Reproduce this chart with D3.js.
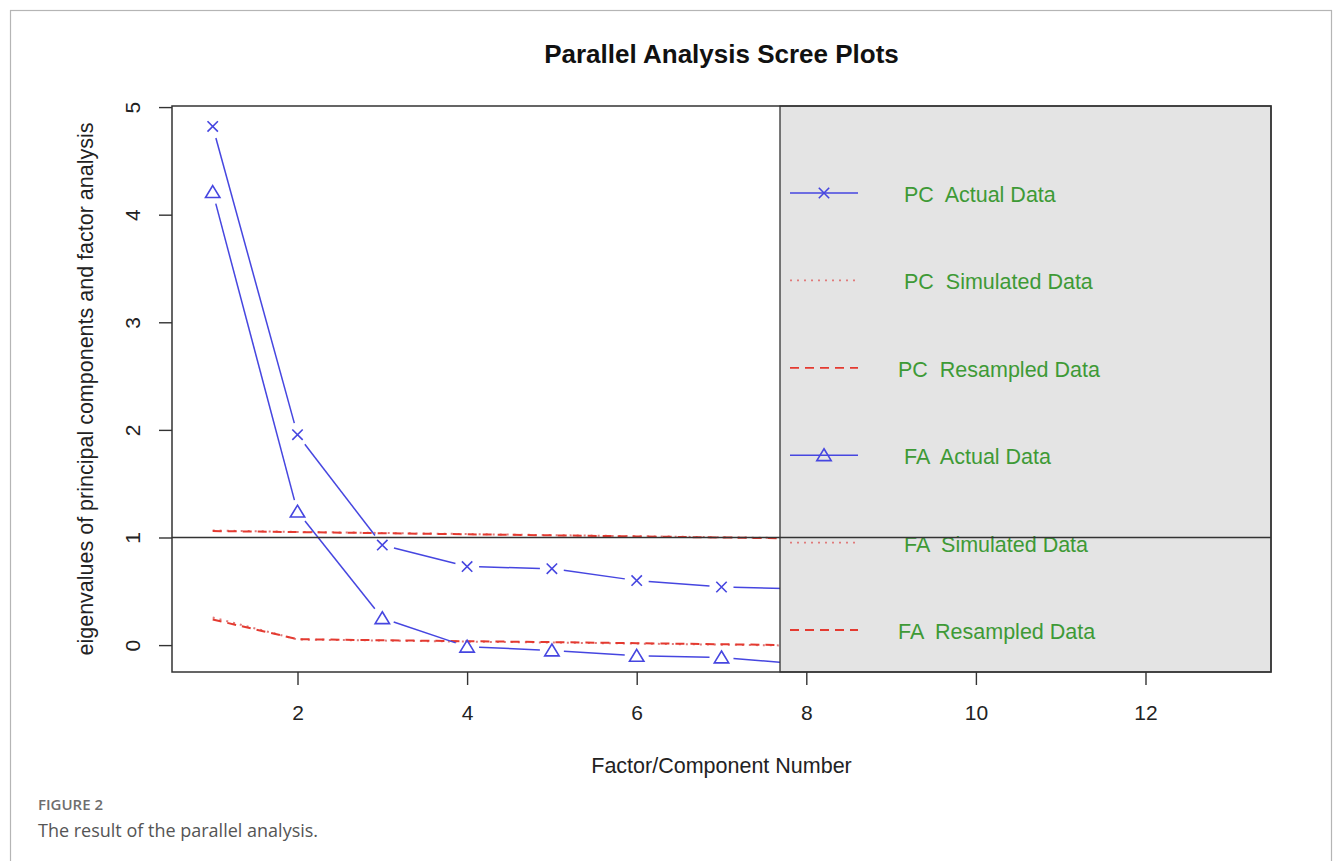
<!DOCTYPE html>
<html>
<head>
<meta charset="utf-8">
<script src="https://cdn.jsdelivr.net/npm/d3@7"></script>
<style>
  body { margin: 0; background: #fff; }
  svg { display: block; }
</style>
</head>
<body>
<div id="chart"></div>
<script>
// factor / component numbers
const factors = [1, 2, 3, 4, 5, 6, 7, 8, 9, 10, 11, 12, 13];

// eigenvalues (values past 8 sit under the legend)
const pcActual    = [4.82, 1.955, 0.93, 0.73, 0.71, 0.60, 0.54, 0.52, 0.49, 0.46, 0.44, 0.42, 0.39];
const pcSimulated = [1.065, 1.052, 1.042, 1.032, 1.022, 1.012, 1.002, 0.992, 0.98, 0.97, 0.96, 0.95, 0.94];
const pcResampled = [1.060, 1.050, 1.040, 1.030, 1.020, 1.010, 1.000, 0.990, 0.98, 0.97, 0.96, 0.95, 0.94];
const faActual    = [4.21, 1.24, 0.25, -0.015, -0.05, -0.10, -0.115, -0.18, -0.20, -0.22, -0.24, -0.26, -0.28];
const faSimulated = [0.257, 0.052, 0.042, 0.032, 0.024, 0.014, 0.004, -0.006, -0.01, -0.02, -0.03, -0.04, -0.05];
const faResampled = [0.238, 0.055, 0.045, 0.036, 0.028, 0.018, 0.008, -0.002, -0.01, -0.02, -0.03, -0.04, -0.05];

const xTicks = [2, 4, 6, 8, 10, 12];
const yTicks = [0, 1, 2, 3, 4, 5];
const referenceLine = 1;

const legendLabels = [
  "PC  Actual Data", "PC  Simulated Data", "PC  Resampled Data",
  "FA  Actual Data", "FA  Simulated Data", "FA  Resampled Data"
];

const titleText = "Parallel Analysis Scree Plots";
const xLabel = "Factor/Component Number";
const yLabel = "eigenvalues of principal components and factor analysis";

const blue = "#4646e0";
const red = "#e43a30";
const pink = "#e07a7a";

const series = [
  { values: pcActual,    color: blue, dash: null,  marker: "x",   gap: true,  textX: 904 },
  { values: pcSimulated, color: pink, dash: "2,5", marker: null,  gap: false, textX: 904 },
  { values: pcResampled, color: red,  dash: "9,6", marker: null,  gap: false, textX: 898 },
  { values: faActual,    color: blue, dash: null,  marker: "tri", gap: true,  textX: 904 },
  { values: faSimulated, color: pink, dash: "2,5", marker: null,  gap: false, textX: 904 },
  { values: faResampled, color: red,  dash: "9,6", marker: null,  gap: false, textX: 898 }
];

const W = 1333, H = 861;
const plot = { left: 172, right: 1271, top: 106, bottom: 672 };
const legendLeft = 780;
const font = "'Liberation Sans', Arial, Helvetica, sans-serif";

const svg = d3.select("#chart")
    .append("svg")
    .attr("width", W)
    .attr("height", H);

// outer figure frame
svg.append("rect")
    .attr("x", 10.5).attr("y", 10.5)
    .attr("width", 1321).attr("height", 900)
    .attr("fill", "none")
    .attr("stroke", "#b5b5b5")
    .attr("stroke-width", 1.2);

const x = d3.scaleLinear().domain([0.52, 13.48]).range([plot.left, plot.right]);
const y = d3.scaleLinear().domain([-0.25, 5.01]).range([plot.bottom, plot.top]);

svg.append("defs").append("clipPath")
    .attr("id", "plotClip")
    .append("rect")
    .attr("x", plot.left).attr("y", plot.top)
    .attr("width", plot.right - plot.left)
    .attr("height", plot.bottom - plot.top);

const g = svg.append("g").attr("clip-path", "url(#plotClip)");

// line segments, shortened at both ends like R's type = "b"
function segments(values, gap) {
  const pts = factors.map((f, i) => [x(f), y(values[i])]);
  const out = [];
  for (let i = 0; i < pts.length - 1; i++) {
    const [x1, y1] = pts[i], [x2, y2] = pts[i + 1];
    const len = Math.hypot(x2 - x1, y2 - y1);
    const r = gap ? 12 : 0;
    if (len <= 2 * r) continue;
    const ux = (x2 - x1) / len, uy = (y2 - y1) / len;
    out.push([x1 + ux * r, y1 + uy * r, x2 - ux * r, y2 - uy * r]);
  }
  return out;
}

function drawMarker(sel, type, cx, cy, color) {
  if (type === "x") {
    const s = 5.2;
    sel.append("path")
        .attr("d", `M${cx - s},${cy - s}L${cx + s},${cy + s}M${cx - s},${cy + s}L${cx + s},${cy - s}`)
        .attr("stroke", color).attr("stroke-width", 1.6).attr("fill", "none");
  } else if (type === "tri") {
    const s = 7.2;
    sel.append("path")
        .attr("d", `M${cx},${cy - s * 0.9}L${cx + s},${cy + s * 0.75}L${cx - s},${cy + s * 0.75}Z`)
        .attr("stroke", color).attr("stroke-width", 1.6).attr("fill", "none");
  }
}

// simulated / resampled first, actual on top
[1, 2, 4, 5, 0, 3].forEach(k => {
  const s = series[k];
  if (s.gap) {
    g.selectAll(null)
        .data(segments(s.values, true))
        .enter()
        .append("line")
        .attr("x1", d => d[0]).attr("y1", d => d[1])
        .attr("x2", d => d[2]).attr("y2", d => d[3])
        .attr("stroke", s.color)
        .attr("stroke-width", 1.5);
  } else {
    g.append("path")
        .datum(s.values)
        .attr("d", d3.line().x((d, i) => x(factors[i])).y(d => y(d)))
        .attr("fill", "none")
        .attr("stroke", s.color)
        .attr("stroke-width", 2)
        .attr("stroke-dasharray", s.dash);
  }
  if (s.marker) {
    factors.forEach((f, i) => drawMarker(g, s.marker, x(f), y(s.values[i]), s.color));
  }
});

// legend box covering the right part of the plot
svg.append("rect")
    .attr("x", legendLeft).attr("y", plot.top)
    .attr("width", plot.right - legendLeft)
    .attr("height", plot.bottom - plot.top)
    .attr("fill", "#e4e4e4")
    .attr("stroke", "#333")
    .attr("stroke-width", 1.3);

const legendY = d3.scalePoint()
    .domain(legendLabels)
    .range([193, 630]);

const legend = svg.append("g");
legendLabels.forEach((label, i) => {
  const s = series[i];
  const ly = legendY(label);
  legend.append("line")
      .attr("x1", 790).attr("x2", 858)
      .attr("y1", ly).attr("y2", ly)
      .attr("stroke", s.color)
      .attr("stroke-width", s.dash ? 1.8 : 1.5)
      .attr("stroke-dasharray", s.dash);
  if (s.marker) drawMarker(legend, s.marker, 824, ly, s.color);
  legend.append("text")
      .attr("x", s.textX)
      .attr("y", ly + 9)
      .style("white-space", "pre")
      .attr("font-family", font)
      .attr("font-size", 21.5)
      .attr("fill", "#3e9a36")
      .text(label);
});

// reference line at eigenvalue 1
svg.append("line")
    .attr("x1", plot.left).attr("x2", plot.right)
    .attr("y1", y(referenceLine)).attr("y2", y(referenceLine))
    .attr("stroke", "#333")
    .attr("stroke-width", 1.4);

// plot box
svg.append("rect")
    .attr("x", plot.left).attr("y", plot.top)
    .attr("width", plot.right - plot.left)
    .attr("height", plot.bottom - plot.top)
    .attr("fill", "none")
    .attr("stroke", "#333")
    .attr("stroke-width", 1.5);

// axes
const xAxis = svg.append("g")
    .attr("transform", `translate(0,${plot.bottom})`)
    .call(d3.axisBottom(x).tickValues(xTicks).tickSize(13).tickFormat(d3.format("d")));
xAxis.select(".domain").remove();
xAxis.selectAll("line").attr("stroke", "#333").attr("stroke-width", 1.4);
xAxis.selectAll("text")
    .attr("y", 48).attr("dy", 0)
    .attr("font-family", font)
    .attr("font-size", 21)
    .attr("fill", "#222");

const yAxis = svg.append("g")
    .attr("transform", `translate(${plot.left},0)`)
    .call(d3.axisLeft(y).tickValues(yTicks).tickSize(13).tickFormat(d3.format("d")));
yAxis.select(".domain").remove();
yAxis.selectAll("line").attr("stroke", "#333").attr("stroke-width", 1.4);
yAxis.selectAll("text")
    .attr("x", 0).attr("y", -32).attr("dy", 0)
    .attr("text-anchor", "middle")
    .attr("transform", "rotate(-90)")
    .attr("font-family", font)
    .attr("font-size", 21)
    .attr("fill", "#222");

// titles
svg.append("text")
    .attr("x", (plot.left + plot.right) / 2)
    .attr("y", 63)
    .attr("text-anchor", "middle")
    .attr("font-family", font)
    .attr("font-weight", "bold")
    .attr("font-size", 26)
    .attr("fill", "#111")
    .text(titleText);

svg.append("text")
    .attr("x", (plot.left + plot.right) / 2)
    .attr("y", 773)
    .attr("text-anchor", "middle")
    .attr("font-family", font)
    .attr("font-size", 21.5)
    .attr("fill", "#222")
    .text(xLabel);

svg.append("text")
    .attr("transform", `translate(93,${(plot.top + plot.bottom) / 2}) rotate(-90)`)
    .attr("text-anchor", "middle")
    .attr("font-family", font)
    .attr("font-size", 21.5)
    .attr("fill", "#222")
    .text(yLabel);

// figure caption
svg.append("text")
    .attr("x", 38).attr("y", 810)
    .attr("font-family", "'Open Sans', 'Noto Sans', sans-serif")
    .attr("font-weight", 600)
    .attr("font-size", 15)
    .attr("fill", "#6e6e6e")
    .text("FIGURE 2");

svg.append("text")
    .attr("x", 38).attr("y", 837)
    .attr("font-family", "'Open Sans', 'Noto Sans', sans-serif")
    .attr("font-size", 18)
    .attr("fill", "#555")
    .text("The result of the parallel analysis.");
</script>
</body>
</html>
